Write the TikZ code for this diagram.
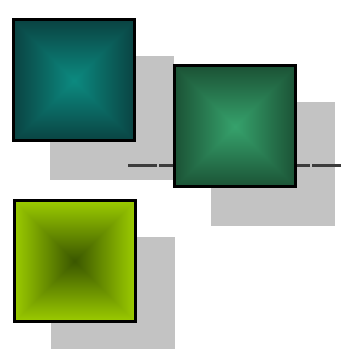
\documentclass[tikz,border=0pt]{standalone}
\usepackage{tikz}
\usepackage{xcolor}
\usetikzlibrary{shadows,positioning}
\definecolor{tealin}{HTML}{0C8A80}
\definecolor{tealout}{HTML}{0A4342}
\definecolor{greenin}{HTML}{36A26C}
\definecolor{greenout}{HTML}{1B5235}
\definecolor{limein}{HTML}{3A5600}
\definecolor{limeout}{HTML}{9CCC00}
\definecolor{shadowgray}{HTML}{C3C3C3}
\definecolor{linkgray}{HTML}{3C3C3C}
\colorlet{sqin}{tealin}
\colorlet{sqout}{tealout}

% square gradient: colour depends on max(|x|,|y|)
\pgfdeclarefunctionalshading[sqin,sqout]{squarefade}{\pgfpoint{-50bp}{-50bp}}{\pgfpoint{50bp}{50bp}}
{\pgfshadecolortorgb{sqin}{\ci}\pgfshadecolortorgb{sqout}{\co}}
{abs exch abs 2 copy lt {exch} if pop 25 div dup 1 gt {pop 1} if
 dup \cored\space \cired\space sub mul \cired\space add exch
 dup \cogreen\space \cigreen\space sub mul \cigreen\space add exch
 \coblue\space \ciblue\space sub mul \ciblue\space add}

\tikzset{
    sqbox/.style 2 args={draw=black, line width=3pt, minimum size=121pt, inner sep=0pt,
        /utils/exec={\colorlet{sqin}{#1}\colorlet{sqout}{#2}}, shading=squarefade,
        general shadow={fill=shadowgray, draw=shadowgray, line width=3pt,
            shadow xshift=38pt, shadow yshift=-38pt}},
    link/.style={draw=linkgray, line width=3pt, dash pattern=on 29pt off 2pt}
}

\begin{document}
\begin{tikzpicture}[x=1pt, y=1pt]
    \useasboundingbox (0,0) rectangle (341,349);

    % Boxes
    \node[sqbox={tealin}{tealout}] (teal) at (74,268.5) {};
    \node[sqbox={greenin}{greenout}] (green) at (235,222.5) {};
    \node[sqbox={limein}{limeout}] (lime) at (74.5,88) {};

    % Links into the green box
    \coordinate (linkL) at (128,183);
    \coordinate (linkR) at (341,183);
    \draw[link] (linkL) -- (linkL -| green.west);
    \draw[link] (linkR) -- (linkR -| green.east);

\end{tikzpicture}
\end{document}
